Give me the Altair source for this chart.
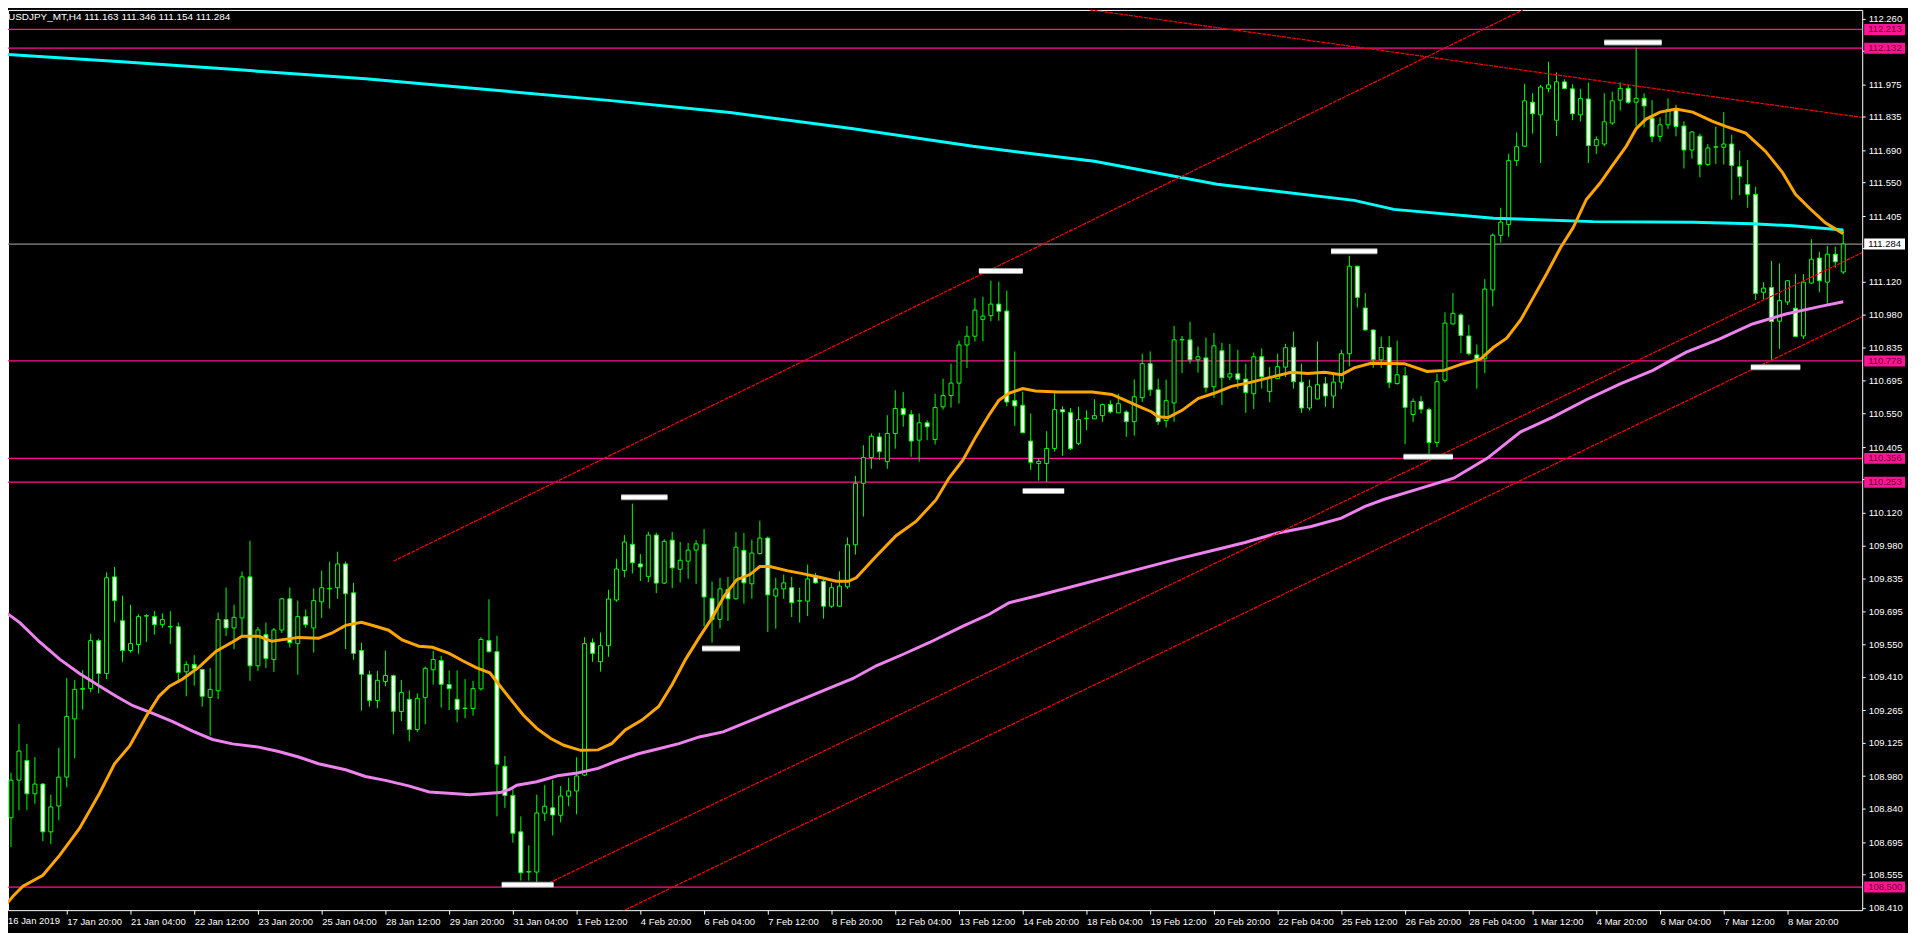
import json
import altair as alt
import pandas as pd

# ---------------- data ----------------
# H4 bars, bar 0 = 16 Jan 2019 (first visible bar)
opens = [108.624,108.800,108.963,109.048,108.904,108.946,108.739,108.851,108.976,109.228,
109.356,109.360,109.567,109.425,109.843,109.653,109.524,109.550,109.673,109.671,
109.636,109.626,109.627,109.432,109.464,109.442,109.321,109.350,109.658,109.622,
109.665,109.843,109.458,109.593,109.485,109.613,109.748,109.554,109.671,109.622,
109.735,109.791,109.796,109.899,109.774,109.524,109.419,109.308,109.390,109.415,
109.260,109.313,109.182,109.321,109.441,109.481,109.377,109.313,109.273,109.273,
109.358,109.567,109.519,109.023,108.897,108.739,108.565,108.565,108.820,108.843,
108.811,108.894,108.916,108.985,109.558,109.476,109.545,109.743,109.871,109.984,
109.899,109.845,110.024,109.816,110.002,109.876,109.911,109.959,109.984,109.750,
109.659,109.788,109.748,109.958,109.813,109.944,110.011,109.760,109.791,109.796,
109.738,109.738,109.846,109.824,109.716,109.716,109.800,109.982,110.248,110.360,
110.449,110.342,110.464,110.572,110.546,110.435,110.510,110.438,110.579,110.628,
110.682,110.847,110.885,110.958,110.974,111.024,110.994,110.606,110.586,110.431,
110.334,110.334,110.399,110.567,110.554,110.421,110.528,110.527,110.541,110.589,
110.553,110.557,110.515,110.619,110.766,110.653,110.520,110.596,110.869,110.869,
110.783,110.791,110.666,110.822,110.708,110.722,110.699,110.636,110.796,110.645,
110.701,110.751,110.837,110.686,110.574,110.613,110.679,110.626,110.686,110.809,
111.188,111.007,110.912,110.783,110.836,110.680,110.714,110.546,110.602,110.567,
110.425,110.694,110.938,110.977,110.886,110.804,110.787,111.085,111.322,111.369,
111.645,111.708,111.898,111.843,111.958,111.820,111.986,111.956,111.843,111.912,
111.710,111.717,111.808,111.907,111.958,111.898,111.915,111.829,111.750,111.800,
111.865,111.795,111.691,111.751,111.628,111.703,111.703,111.717,111.619,111.542,
111.499,111.075,111.096,110.950,111.033,111.006,110.886,111.115,111.223,111.119,
111.240,111.163]

highs = [108.886,108.995,109.206,109.120,109.063,108.950,108.900,109.103,109.405,109.396,
109.439,109.596,109.575,109.862,109.886,109.762,109.722,109.681,109.681,109.695,
109.685,109.694,109.645,109.478,109.504,109.446,109.448,109.688,109.797,109.722,
109.866,109.999,109.626,109.645,109.622,109.752,109.797,109.740,109.702,109.793,
109.870,109.909,109.952,109.909,109.817,109.558,109.436,109.436,109.524,109.420,
109.396,109.352,109.339,109.455,109.523,109.501,109.438,109.438,109.400,109.392,
109.582,109.746,109.588,109.068,108.926,108.806,108.681,108.900,108.941,108.964,
108.938,108.973,109.062,109.582,109.576,109.602,109.787,109.921,110.024,110.160,
109.942,110.038,110.034,110.006,110.038,109.994,109.990,110.002,110.050,109.823,
109.839,109.843,110.037,110.033,110.004,110.086,110.018,109.839,109.853,109.843,
109.796,109.896,109.860,109.832,109.817,109.867,110.014,110.280,110.413,110.464,
110.467,110.543,110.651,110.643,110.564,110.550,110.521,110.636,110.701,110.766,
110.866,110.929,111.050,111.056,111.125,111.121,111.082,110.819,110.645,110.550,
110.356,110.474,110.639,110.582,110.574,110.579,110.564,110.612,110.593,110.607,
110.636,110.564,110.698,110.809,110.819,110.701,110.697,110.929,110.886,110.947,
110.840,110.879,110.899,110.856,110.852,110.826,110.766,110.814,110.832,110.751,
110.809,110.852,110.905,110.766,110.697,110.862,110.708,110.722,110.826,111.233,
111.190,111.072,110.914,110.883,110.886,110.866,110.751,110.615,110.625,110.576,
110.723,110.988,111.072,110.984,110.934,110.849,111.132,111.330,111.441,111.675,
111.767,111.978,111.937,111.973,112.073,112.027,111.997,111.976,111.956,111.983,
111.750,111.937,111.944,111.984,111.973,112.134,111.937,111.907,111.832,111.915,
111.887,111.815,111.772,111.762,111.717,111.792,111.855,111.757,111.688,111.648,
111.532,111.119,111.211,111.200,111.128,111.154,111.154,111.305,111.251,111.276,
111.273,111.346]

lows = [108.617,108.673,108.833,108.833,108.861,108.699,108.686,108.789,108.932,109.058,
109.268,109.343,109.339,109.400,109.648,109.475,109.515,109.510,109.561,109.593,
109.622,109.553,109.386,109.326,109.372,109.281,109.156,109.314,109.587,109.530,
109.587,109.393,109.436,109.448,109.432,109.600,109.537,109.419,109.622,109.515,
109.665,109.706,109.748,109.530,109.484,109.264,109.281,109.274,109.369,109.162,
109.219,109.131,109.171,109.204,109.377,109.277,109.267,109.213,109.231,109.242,
109.351,109.516,108.806,108.843,108.692,108.528,108.528,108.505,108.786,108.724,
108.780,108.850,108.815,108.980,109.475,109.433,109.497,109.735,109.841,109.858,
109.825,109.820,109.773,109.812,109.794,109.819,109.835,109.813,109.629,109.558,
109.619,109.652,109.745,109.727,109.748,109.939,109.604,109.619,109.748,109.669,
109.645,109.673,109.813,109.662,109.709,109.714,109.791,109.939,110.104,110.311,
110.349,110.311,110.398,110.493,110.363,110.342,110.435,110.416,110.567,110.576,
110.593,110.747,110.862,110.863,110.950,110.952,110.582,110.497,110.465,110.306,
110.260,110.254,110.385,110.367,110.392,110.413,110.478,110.526,110.514,110.550,
110.552,110.449,110.454,110.600,110.626,110.501,110.490,110.514,110.725,110.766,
110.727,110.641,110.618,110.587,110.694,110.658,110.553,110.570,110.658,110.599,
110.700,110.708,110.658,110.553,110.564,110.612,110.579,110.573,110.656,110.755,
111.010,110.909,110.748,110.748,110.661,110.675,110.418,110.514,110.550,110.370,
110.404,110.684,110.936,110.812,110.802,110.658,110.725,111.014,111.290,111.315,
111.622,111.705,111.762,111.635,111.941,111.751,111.955,111.820,111.815,111.635,
111.674,111.707,111.800,111.862,111.891,111.793,111.789,111.724,111.728,111.783,
111.750,111.611,111.654,111.573,111.621,111.631,111.628,111.477,111.496,111.441,
111.042,111.042,110.777,110.830,111.020,110.881,110.873,111.112,111.075,111.024,
111.182,111.154]

closes = [108.808,108.963,109.089,108.904,108.946,108.739,108.847,108.976,109.239,109.356,
109.360,109.567,109.425,109.839,109.740,109.524,109.554,109.671,109.675,109.636,
109.658,109.628,109.429,109.464,109.446,109.326,109.356,109.658,109.622,109.668,
109.843,109.458,109.613,109.489,109.613,109.748,109.558,109.671,109.636,109.740,
109.796,109.793,109.899,109.770,109.512,109.421,109.308,109.395,109.416,109.261,
109.342,109.182,109.317,109.447,109.485,109.378,109.359,109.269,109.275,109.359,
109.572,109.519,109.032,108.896,108.733,108.562,108.567,108.821,108.850,108.812,
108.894,108.916,108.981,109.554,109.512,109.545,109.747,109.877,109.994,109.904,
109.886,110.024,109.816,109.997,109.882,109.915,109.959,109.986,109.756,109.658,
109.791,109.748,109.972,109.817,109.946,110.011,109.765,109.791,109.817,109.731,
109.740,109.834,109.817,109.716,109.796,109.803,109.982,110.248,110.360,110.452,
110.385,110.464,110.572,110.546,110.431,110.510,110.493,110.576,110.628,110.682,
110.847,110.885,110.998,110.972,111.024,110.993,110.600,110.583,110.467,110.339,
110.343,110.399,110.567,110.557,110.398,110.524,110.530,110.541,110.589,110.557,
110.593,110.515,110.623,110.766,110.653,110.515,110.606,110.869,110.871,110.783,
110.796,110.662,110.843,110.705,110.722,110.699,110.641,110.796,110.709,110.708,
110.753,110.835,110.688,110.574,110.666,110.675,110.626,110.686,110.809,111.188,
111.053,110.912,110.783,110.836,110.684,110.718,110.577,110.603,110.569,110.425,
110.688,110.942,110.984,110.888,110.809,110.787,111.089,111.322,111.379,111.645,
111.705,111.904,111.848,111.964,111.973,111.986,111.957,111.848,111.914,111.710,
111.736,111.813,111.904,111.958,111.898,111.915,111.882,111.750,111.800,111.865,
111.793,111.691,111.769,111.628,111.700,111.705,111.717,111.624,111.576,111.499,
111.070,111.093,110.948,111.039,111.125,110.884,111.119,111.218,111.125,111.240,
111.207,111.284]

# time-axis labels, one every 8 bars
time_labels = ["16 Jan 2019", "17 Jan 20:00", "21 Jan 04:00", "22 Jan 12:00", "23 Jan 20:00",
               "25 Jan 04:00", "28 Jan 12:00", "29 Jan 20:00", "31 Jan 04:00", "1 Feb 12:00",
               "4 Feb 20:00", "6 Feb 04:00", "7 Feb 12:00", "8 Feb 20:00", "12 Feb 04:00",
               "13 Feb 12:00", "14 Feb 20:00", "18 Feb 04:00", "19 Feb 12:00", "20 Feb 20:00",
               "22 Feb 04:00", "25 Feb 12:00", "26 Feb 20:00", "28 Feb 04:00", "1 Mar 12:00",
               "4 Mar 20:00", "6 Mar 04:00", "7 Mar 12:00", "8 Mar 20:00"]

price_ticks = [112.260, 112.120, 111.975, 111.835, 111.690, 111.550, 111.405, 111.265,
               111.120, 110.980, 110.835, 110.695, 110.550, 110.405, 110.265, 110.120,
               109.980, 109.835, 109.695, 109.550, 109.410, 109.265, 109.125, 108.980,
               108.840, 108.695, 108.555, 108.410]
# tick labels covered by the price boxes
covered_ticks = [112.120, 111.265, 110.265]

levels = [112.213, 112.132, 110.778, 110.356, 110.253, 108.500]
last_price = 111.284

# orange moving average (bar index, price)
orange_idx = [0,1.25,2.5,5,7.1,9.6,12.1,14,15.9,18,19.6,20.9,22.5,24.6,26.75,28.75,30,32.1,33.75,37.1,
              39.6,41.25,43,45,46.75,48.4,50.1,52.2,53.9,56,57.7,59.4,61.1,62.4,63.6,65.3,67,68.75,
              70.4,72.5,74.7,76.4,78.1,80.2,82.3,84,85.7,87.4,89.1,90.5,92.1,93.75,95,96.25,98.4,
              100.5,102.5,104.6,106.1,107.1,109.6,112.1,114.6,117.1,118.75,120.5,122.1,123.75,125,
              126.25,128,129.6,132.5,136.7,139.2,140.9,142.5,144.2,145,146.25,148,150,152.1,154.2,
              156.7,159.2,161.7,163.75,165.9,168,169.6,171.7,175.9,178.75,180.9,183,185.5,187.1,
              188.75,190.5,192.1,193.75,195.5,197.1,198.75,200.5,202.1,203.75,205,206.25,208,210,
              212.1,214.6,216.25,218.75,221.25,223.4,225,226.7,228.75,231]
orange_val = [108.409,108.460,108.504,108.551,108.637,108.754,108.905,109.034,109.111,109.241,109.327,
              109.370,109.400,109.452,109.521,109.560,109.586,109.586,109.564,109.581,109.577,109.599,
              109.633,109.646,109.629,109.612,109.570,109.543,109.538,109.512,109.480,109.450,109.428,
              109.370,109.318,109.245,109.187,109.143,109.114,109.092,109.094,109.121,109.180,109.223,
              109.282,109.377,109.487,109.581,109.670,109.759,109.831,109.853,109.888,109.888,109.870,
              109.856,109.841,109.824,109.824,109.839,109.932,110.021,110.083,110.176,110.271,110.349,
              110.449,110.543,110.607,110.638,110.658,110.648,110.643,110.643,110.633,110.607,110.582,
              110.557,110.536,110.533,110.564,110.615,110.639,110.668,110.686,110.708,110.729,110.723,
              110.729,110.718,110.748,110.768,110.766,110.732,110.737,110.763,110.787,110.837,110.876,
              110.955,111.053,111.154,111.268,111.355,111.477,111.549,111.628,111.707,111.783,111.825,
              111.855,111.868,111.855,111.815,111.793,111.764,111.685,111.592,111.499,111.441,111.376,
              111.329]

# violet moving average
violet_idx = [0,2.1,4.6,7.1,9.6,12.1,14.2,16.3,18.8,21.3,23.8,26.3,28.8,32.1,34.6,37.1,39.6,43,45.5,48,
              50.9,53.5,56.9,58.6,61.1,62.4,63.6,64.5,67,69.6,72.1,74.7,77.2,79.75,82.3,84.85,87.4,
              90.4,106.7,109.6,113,116.3,120.5,123.8,126.3,129.6,147.5,151.7,155.9,160,164.2,168,
              170.9,173.4,178,182.1,186.3,190.5,194.6,198.8,203,207.1,209.2,211.3,215.5,219.6,
              223.8,228,231]
violet_val = [109.698,109.645,109.561,109.487,109.425,109.371,109.326,109.285,109.252,109.216,109.175,
              109.139,109.120,109.106,109.087,109.063,109.034,109.008,108.979,108.962,108.938,108.912,
              108.904,108.900,108.906,108.909,108.923,108.941,108.956,108.982,108.994,109.014,109.048,
              109.077,109.099,109.121,109.150,109.172,109.403,109.458,109.508,109.559,109.630,109.681,
              109.731,109.759,109.921,109.956,109.992,110.033,110.061,110.097,110.147,110.179,110.227,
              110.270,110.356,110.471,110.536,110.611,110.679,110.737,110.777,110.816,110.873,110.938,
              110.981,111.013,111.034]

# cyan (slow) moving average
cyan_idx = [0, 14.9, 30.1, 45.5, 60.75, 76, 91.25, 106.5, 121.75, 137, 152.4, 169.6, 174.6, 187.1,
            199.6, 212.1, 219.6, 224.6, 231]
cyan_val = [112.106, 112.073, 112.037, 112.000, 111.953, 111.906, 111.853, 111.784, 111.707, 111.642,
            111.543, 111.473, 111.434, 111.396, 111.381, 111.378, 111.372, 111.363, 111.345]

# red dotted trend lines: id, bar index, price
trend_id = ["a", "a", "b", "b", "c", "c", "d", "d"]
trend_idx = [136.4, 233.4, 49.0, 190.8, 67.4, 233.4, 77.0, 233.4]
trend_price = [112.298, 111.832, 109.911, 112.298, 108.499, 111.247, 108.383, 110.970]

# white swing markers: start bar, end bar, price
mark_start = [62.6, 77.6, 87.75, 122.5, 128.0, 166.7, 175.8, 201.0, 219.4]
mark_end = [69.1, 83.4, 92.5, 128.0, 133.2, 172.5, 182.0, 208.2, 225.6]
mark_price = [108.510, 110.188, 109.533, 111.167, 110.215, 111.253, 110.363, 112.157, 110.751]

# ---------------- frames ----------------
n = len(opens)
candles = pd.DataFrame({"idx": list(range(n)), "open": opens, "high": highs,
                        "low": lows, "close": closes})
lv = pd.DataFrame({"price": levels, "label": [f"{v:.3f}" for v in levels]})
cur = pd.DataFrame({"price": [last_price], "label": [f"{last_price:.3f}"]})
orange = pd.DataFrame({"idx": orange_idx, "price": orange_val})
violet = pd.DataFrame({"idx": violet_idx, "price": violet_val})
cyan = pd.DataFrame({"idx": cyan_idx, "price": cyan_val})
trends = pd.DataFrame({"id": trend_id, "idx": trend_idx, "price": trend_price})
marks = pd.DataFrame({"s": mark_start, "e": mark_end, "price": mark_price})

FONT = "Liberation Sans"
FS = 9.5
LIME = "#00ff00"
PINK = "#ff1493"

xscale = alt.Scale(domain=[0.625, 233.375], nice=False, zero=False)
yscale = alt.Scale(domain=[108.4001, 112.2975], nice=False, zero=False)

xaxis = alt.Axis(values=list(range(8, 8 * len(time_labels), 8)),
                 labelExpr=json.dumps(time_labels) + "[round(datum.value / 8)]",
                 labelAlign="left", labelPadding=2, labelFont=FONT, labelFontSize=FS,
                 labelColor="white", tickColor="white", tickSize=4, domain=False, grid=False,
                 title=None, labelOverlap=False, labelBound=False, labelFlush=False)
covered_expr = " || ".join(f"abs(datum.value - {v}) < 0.0005" for v in covered_ticks)
yaxis = alt.Axis(orient="right", values=price_ticks,
                 labelExpr=f"({covered_expr}) ? '' : format(datum.value, '.3f')",
                 labelFont=FONT, labelFontSize=FS, labelColor="white", tickColor="white",
                 tickSize=3, labelPadding=3, domain=False, grid=False, title=None,
                 labelOverlap=False, labelBound=False, labelFlush=False)


def X(field):
    return alt.X(field, type="quantitative", scale=xscale, axis=xaxis)


def Y(field):
    return alt.Y(field, type="quantitative", scale=yscale, axis=yaxis)


level_lines = alt.Chart(lv).mark_rule(color=PINK, strokeWidth=1.2).encode(y=Y("price"))
cur_line = alt.Chart(cur).mark_rule(color="#8c8c8c", strokeWidth=1.2).encode(y=Y("price"))

wicks = alt.Chart(candles).mark_rule(color=LIME, strokeWidth=1, clip=True).encode(
    x=X("idx"), y=Y("low"), y2="high")
bodies = alt.Chart(candles).transform_calculate(
    x0="datum.idx - 0.25", x1="datum.idx + 0.25"
).mark_rect(stroke=LIME, strokeWidth=1, clip=True).encode(
    x=X("x0"), x2="x1", y=Y("open"), y2="close",
    fill=alt.condition("datum.close >= datum.open", alt.value("black"), alt.value("white")))

cyan_line = alt.Chart(cyan).mark_line(color="#00ffff", strokeWidth=3, clip=True).encode(
    x=X("idx"), y=Y("price"))
violet_line = alt.Chart(violet).mark_line(color="#ee82ee", strokeWidth=3, clip=True).encode(
    x=X("idx"), y=Y("price"))
orange_line = alt.Chart(orange).mark_line(color="#ffa500", strokeWidth=3, clip=True).encode(
    x=X("idx"), y=Y("price"))

trend_lines = alt.Chart(trends).mark_line(color="#ff0000", strokeWidth=1.2, strokeDash=[4, 1],
                                          clip=True).encode(
    x=X("idx"), y=Y("price"), detail="id:N")

marker_edge = alt.Chart(marks).mark_rule(color="#9a9a9a", strokeWidth=6).encode(
    x=X("s"), x2="e", y=Y("price"))
marker_fill = alt.Chart(marks).mark_rule(color="white", strokeWidth=4).encode(
    x=X("s"), x2="e", y=Y("price"))

# price labels on the right axis
lv_box = alt.Chart(lv).mark_rule(color=PINK, strokeWidth=11).encode(
    x=alt.value(1864), x2=alt.value(1905), y=Y("price"))
lv_txt = alt.Chart(lv).mark_text(align="left", baseline="middle", font=FONT, fontSize=FS,
                                 color="#6a0030").encode(
    x=alt.value(1868), y=Y("price"), text="label:N")
cur_box = alt.Chart(cur).mark_rule(color="white", strokeWidth=11).encode(
    x=alt.value(1864), x2=alt.value(1905), y=Y("price"))
cur_txt = alt.Chart(cur).mark_text(align="left", baseline="middle", font=FONT, fontSize=FS,
                                   color="black").encode(
    x=alt.value(1868), y=Y("price"), text="label:N")

# first time label (its bar sits on the very left edge)
first_lbl = alt.Chart(pd.DataFrame({"t": [time_labels[0]]})).mark_text(
    align="left", baseline="top", font=FONT, fontSize=FS, color="white").encode(
    x=alt.value(0), y=alt.value(910), text="t:N")

title_txt = alt.Chart(pd.DataFrame({"t": [
    f"USDJPY_MT,H4  {opens[-1]:.3f} {highs[-1]:.3f} {lows[-1]:.3f} {closes[-1]:.3f}"]})
).mark_text(align="left", baseline="top", font=FONT, fontSize=FS + 0.5, color="white").encode(
    x=alt.value(0), y=alt.value(2), text="t:N")

chart = alt.layer(
    level_lines, cur_line, wicks, bodies, cyan_line, violet_line, orange_line,
    trend_lines, marker_edge, marker_fill, lv_box, lv_txt, cur_box, cur_txt,
    first_lbl, title_txt
).properties(
    width=1862, height=904,
    padding={"left": 0, "top": 0, "right": 46, "bottom": 21},
    autosize=alt.AutoSizeParams(type="none"),
    background="black",
).configure_view(stroke="white", strokeWidth=1)

chart.save("out.html", embed_options={"renderer": "svg", "actions": False})
